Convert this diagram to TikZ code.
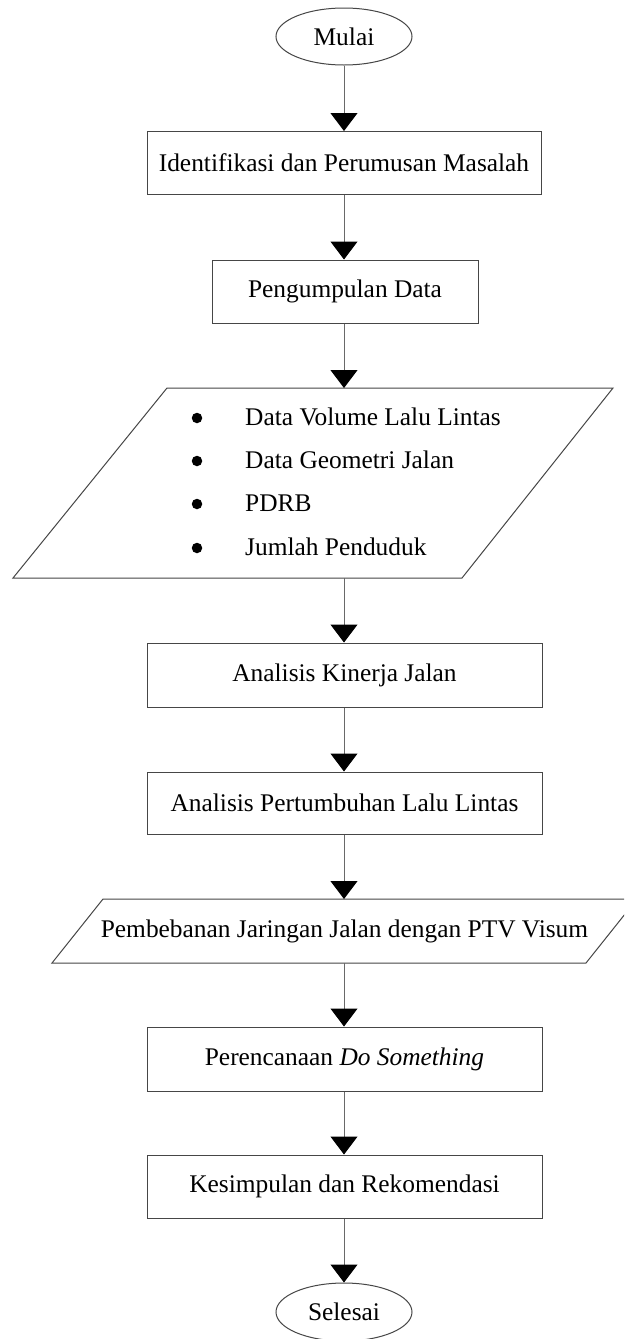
\documentclass[tikz,border=0pt]{standalone}
\usepackage{fontspec}
\setmainfont{Liberation Serif}
\usetikzlibrary{arrows.meta,shapes.geometric}
\definecolor{boxcol}{RGB}{70,70,70}
\definecolor{linecol}{RGB}{105,105,105}
\tikzset{
  txt/.style={font=\fontsize{25.4}{30}\selectfont, text=black},
  stepbox/.style={txt, draw=boxcol, line width=1pt, rectangle, inner sep=0pt, minimum width=394pt, minimum height=63pt},
  terminal/.style={txt, draw=boxcol, line width=1pt, ellipse, inner sep=0pt, minimum width=136pt, minimum height=57pt},
  conn/.style={draw=linecol, line width=1pt, -{Triangle[width=27pt,length=18pt,fill=black,color=black]}},
  para/.style={draw=boxcol, line width=1pt, line join=miter},
  bul/.style={circle, fill=black, inner sep=0pt, minimum size=10.5pt}
}
\begin{document}
\begin{tikzpicture}[x=1pt,y=-1pt]
\useasboundingbox (0,0) rectangle (624,1339);
\clip (0,0) rectangle (624,1339);
\fill[white] (0,0) rectangle (624,1339);

\node[terminal] (mulai) at (344,36.5) {Mulai};
\node[stepbox] (b1) at (344,163) {Identifikasi dan Perumusan Masalah};
\node[stepbox, minimum width=266pt] (b2) at (345,291.5) {Pengumpulan Data};

% parallelogram 1
\draw[para] (167,388) -- (613,388) -- (462,578) -- (13,578) -- cycle;
\coordinate (p1top) at (344,388);
\coordinate (p1bot) at (344,578);
\node[bul] (d1) at (197,418) {};
\node[bul] (d2) at (197,461) {};
\node[bul] (d3) at (197,504) {};
\node[bul] (d4) at (197,548) {};
\node[txt, anchor=base west, inner sep=0pt] (t1) at (245,425) {Data Volume Lalu Lintas};
\node[txt, anchor=base west, inner sep=0pt] (t2) at (245,468) {Data Geometri Jalan};
\node[txt, anchor=base west, inner sep=0pt] (t3) at (245,511) {PDRB};
\node[txt, anchor=base west, inner sep=0pt] (t4) at (245,555) {Jumlah Penduduk};

\node[stepbox, minimum width=395pt, minimum height=64pt] (b3) at (344.5,675) {Analisis Kinerja Jalan};
\node[stepbox, minimum width=395pt, minimum height=62pt] (b4) at (344.5,803) {Analisis Pertumbuhan Lalu Lintas};

% parallelogram 2
\draw[para] (103,899) -- (637,899) -- (586,963) -- (52,963) -- cycle;
\coordinate (p2top) at (344,899);
\coordinate (p2bot) at (344,963);
\node[txt, inner sep=0pt] (pt) at (344.5,931) {Pembebanan Jaringan Jalan dengan PTV Visum};

\node[stepbox, minimum width=395pt, minimum height=64pt] (b5) at (344.5,1059) {Perencanaan \textit{Do Something}};
\node[stepbox, minimum width=395pt, minimum height=63pt] (b6) at (344.5,1186.5) {Kesimpulan dan Rekomendasi};
\node[terminal, minimum height=58pt] (selesai) at (344,1312) {Selesai};

\draw[conn] (mulai.south) -- (b1.north);
\draw[conn] (b1.south) -- (b2.north -| b1.south);
\draw[conn] (b2.south -| b1.south) -- (p1top);
\draw[conn] (p1bot) -- (b3.north -| p1bot);
\draw[conn] (b3.south -| p1bot) -- (b4.north -| p1bot);
\draw[conn] (b4.south -| p1bot) -- (p2top);
\draw[conn] (p2bot) -- (b5.north -| p2bot);
\draw[conn] (b5.south -| p2bot) -- (b6.north -| p2bot);
\draw[conn] (b6.south -| p2bot) -- (selesai.north);
\end{tikzpicture}
\end{document}
